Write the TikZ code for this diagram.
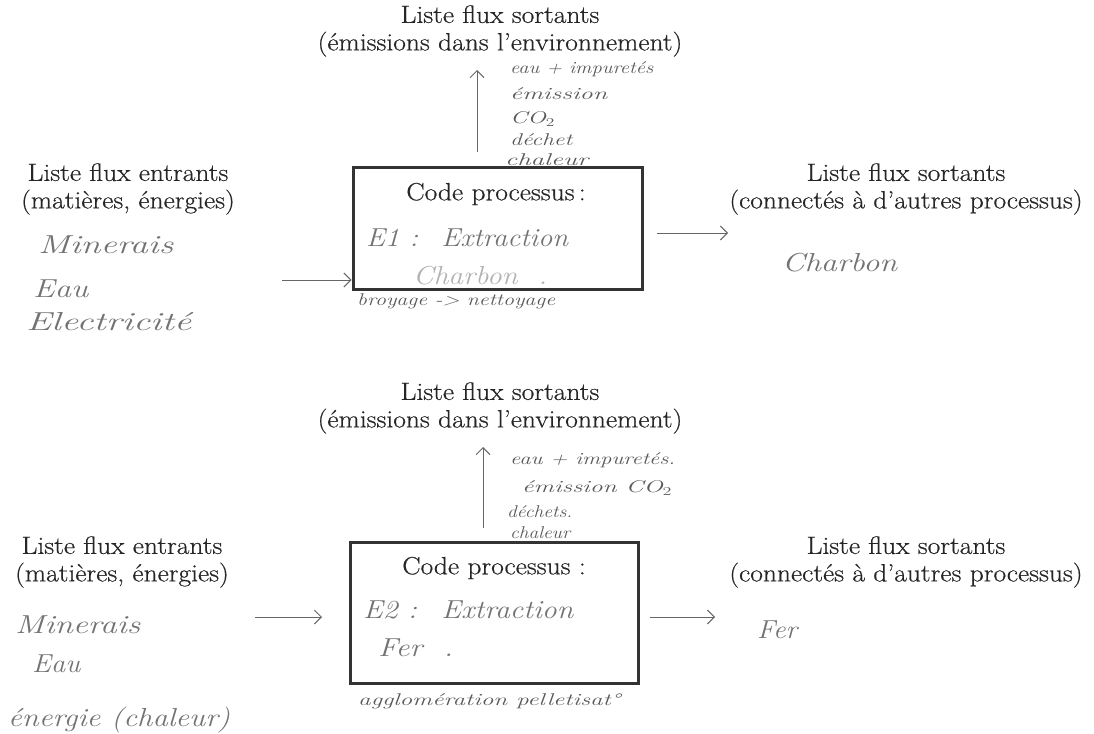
\documentclass[tikz,border=0pt]{standalone}
\usepackage{fontspec}
\usetikzlibrary{arrows.meta}
\newfontfamily\printfont{Latin Modern Roman}[FakeStretch=1.1, FakeBold=0.5]
\newcommand\hw[2]{\resizebox{#1pt}{\height}{#2}}
\begin{document}
\begin{tikzpicture}[x=1pt,y=-1pt,
  printed/.style={font=\printfont\fontsize{25}{27.5}\selectfont, align=center, text=black!85, inner sep=0pt},
  hand/.style={font=\fontsize{26}{28}\selectfont\itshape, text=black!55, anchor=west, inner sep=0pt},
  handlight/.style={hand, text=black!30},
  handsmall/.style={font=\fontsize{17}{18}\selectfont\itshape, text=black!65, anchor=west, inner sep=0pt},
  procbox/.style={draw=black!80, line width=3pt, inner sep=0pt},
  flow/.style={draw=black!60, line width=1pt, -{Straight Barb[length=7pt,width=14pt]}}]
\useasboundingbox[fill=white] (0,0) rectangle (1094,733);

% ===== Process 1 =====
\node[printed] (em1) at (500,31) {Liste flux sortants\\(émissions dans l’environnement)};
\coordinate (up1s) at (477,152);
\coordinate (up1e) at (477,70);
\draw[flow] (up1s) -- (up1e);
\node[handsmall] (em1a) at (510,69) {\hw{143}{eau + impuretés}};
\node[handsmall] (em1b) at (510,94) {\hw{97}{émission}};
\node[handsmall] (em1c) at (510,119) {\hw{45}{CO$_2$}};
\node[handsmall] (em1d) at (510,140) {\hw{62}{déchet}};
\node[handsmall] (em1e) at (505,160) {\hw{83}{chaleur}};

\node[procbox, minimum width=289pt, minimum height=122pt] (box1) at (497.5,228) {};
\node[printed] (code1) at (496,194) {Code processus\,:};
\node[hand] (e1) at (366,238) {\hw{202}{E1 :~ Extraction}};
\node[handlight] (ch1) at (413,276) {\hw{134}{Charbon~ .}};
\node[handsmall] (op1) at (357,301) {\hw{198}{broyage -> nettoyage}};

\node[printed] (in1) at (128,189) {Liste flux entrants\\(matières, énergies)};
\node[hand] (in1a) at (38,245) {\hw{135}{Minerais}};
\node[hand] (in1b) at (33,289) {\hw{55}{Eau}};
\node[hand] (in1c) at (26,322) {\hw{165}{Electricité}};
\coordinate (in1s) at (282,280);
\draw[flow] (in1s) -- (box1.west |- in1s);

\node[printed] (out1) at (906,189) {Liste flux sortants\\(connectés à d’autres processus)};
\coordinate (out1s) at (657,233);
\coordinate (out1e) at (728,233);
\draw[flow] (out1s) -- (out1e);
\node[hand] (out1a) at (782,263) {\hw{115}{Charbon}};

% ===== Process 2 =====
\node[printed] (em2) at (500,408) {Liste flux sortants\\(émissions dans l’environnement)};
\coordinate (up2s) at (483,528);
\coordinate (up2e) at (483,447);
\draw[flow] (up2s) -- (up2e);
\node[handsmall] (em2a) at (510,460) {\hw{165}{eau + impuretés.}};
\node[handsmall] (em2b) at (522,488) {\hw{150}{émission CO$_2$}};
\node[handsmall] (em2c) at (507,512) {\hw{65}{déchets.}};
\node[handsmall] (em2d) at (510,533) {\hw{60}{chaleur}};

\node[procbox, minimum width=288pt, minimum height=141pt] (box2) at (494,612.5) {};
\node[printed] (code2) at (494,568) {Code processus :};
\node[hand] (e2) at (363,610) {\hw{210}{E2 :~ Extraction}};
\node[hand] (fe2) at (378,648) {\hw{75}{Fer~ .}};
\node[handsmall] (op2) at (358,701) {\hw{262}{agglomération pelletisat°}};

\node[printed] (in2) at (122,562) {Liste flux entrants\\(matières, énergies)};
\node[hand] (in2a) at (15,625) {\hw{125}{Minerais}};
\node[hand] (in2b) at (32,664) {\hw{48}{Eau}};
\node[hand] (in2c) at (8,720) {\hw{222}{énergie (chaleur)}};
\coordinate (in2s) at (255,617);
\coordinate (in2e) at (322,617);
\draw[flow] (in2s) -- (in2e);

\node[printed] (out2) at (906,562) {Liste flux sortants\\(connectés à d’autres processus)};
\coordinate (out2s) at (650,617);
\coordinate (out2e) at (715,617);
\draw[flow] (out2s) -- (out2e);
\node[hand] (out2a) at (757,630) {\hw{40}{Fer}};
\end{tikzpicture}
\end{document}
